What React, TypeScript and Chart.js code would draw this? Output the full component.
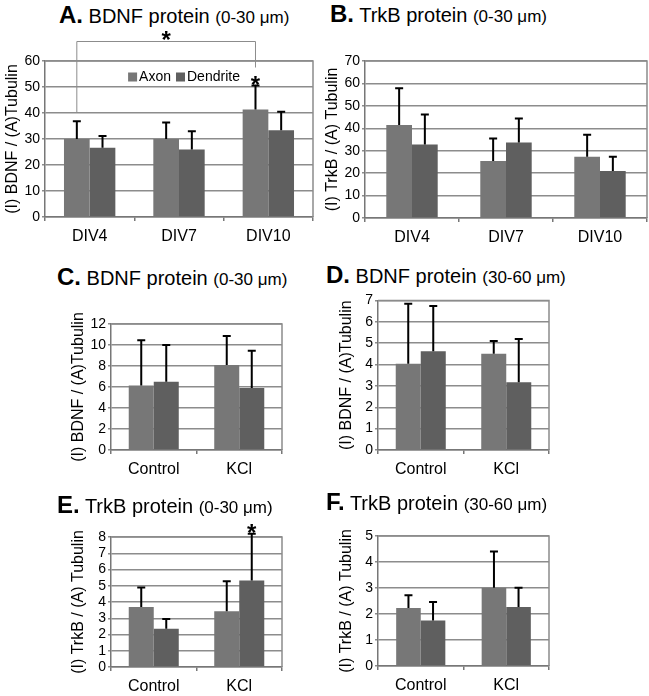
import React, { useEffect, useRef } from "react";
import { Chart, registerables } from "chart.js";

Chart.register(...registerables);

const FONT = "'Liberation Sans', Arial, Helvetica, sans-serif";
const SERIES = ["Axon", "Dendrite"];
const AXON_COLOR = "#777777";
const DENDRITE_COLOR = "#5f5f5f";

// categories
const catsDIV = ["DIV4", "DIV7", "DIV10"];
const catsTreat = ["Control", "KCl"];

// A. BDNF protein (0-30 µm)
const aAxon = [30.0, 30.0, 41.3];
const aAxonErr = [6.8, 6.3, 9.3];
const aDend = [26.6, 26.0, 33.4];
const aDendErr = [4.6, 7.0, 7.1];

// B. TrkB protein (0-30 µm)
const bAxon = [41.5, 25.4, 27.3];
const bAxonErr = [16.4, 10.1, 9.8];
const bDend = [32.8, 33.7, 21.0];
const bDendErr = [13.4, 10.7, 6.3];

// C. BDNF protein (0-30 µm)
const cAxon = [6.15, 8.1];
const cAxonErr = [4.3, 2.75];
const cDend = [6.5, 5.9];
const cDendErr = [3.5, 3.55];

// D. BDNF protein (30-60 µm)
const dAxon = [4.04, 4.5];
const dAxonErr = [2.8, 0.6];
const dDend = [4.62, 3.17];
const dDendErr = [2.12, 2.02];

// E. TrkB protein (0-30 µm)
const eAxon = [3.69, 3.43];
const eAxonErr = [1.2, 1.85];
const eDend = [2.35, 5.33];
const eDendErr = [0.6, 2.87];

// F. TrkB protein (30-60 µm)
const fAxon = [2.23, 3.01];
const fAxonErr = [0.49, 1.39];
const fDend = [1.75, 2.27];
const fDendErr = [0.71, 0.74];

// y axis ranges
const yMaxes = [60, 70, 12, 7, 8, 5];
const ySteps = [10, 10, 2, 1, 1, 1];

// significance marks (dataset index, category index)
const aStars = [{ ds: 0, idx: 2 }];
const eStars = [{ ds: 1, idx: 1 }];
// bracket in A: from DIV4 axon to DIV10 axon, values of top level and ends
const aBracket = { ds: 0, from: 0, to: 2, level: 67.5, fromEnd: 40.2, toEnd: 57.5 };

type Box = { x: number; y: number; w: number; h: number };
type Area = { l: number; t: number; r: number; b: number };

interface PanelSpec {
  letter: string;
  title: string;
  sub: string;
  yTitle: string;
  cats: string[];
  axon: number[];
  axonErr: number[];
  dend: number[];
  dendErr: number[];
  yMax: number;
  yStep: number;
  canvas: Box;
  area: Area;
  yTitleX: number;
  titleX: number;
  titleBase: number;
  catPct: number;
  legend: boolean;
  stars: { ds: number; idx: number }[];
  bracket?: typeof aBracket;
}

const panels: PanelSpec[] = [
  {
    letter: "A.", title: "BDNF protein", sub: "(0-30 μm)", yTitle: "(I) BDNF / (A)Tubulin",
    cats: catsDIV, axon: aAxon, axonErr: aAxonErr, dend: aDend, dendErr: aDendErr,
    yMax: yMaxes[0], yStep: ySteps[0],
    canvas: { x: 0, y: 28, w: 322, h: 222 }, area: { l: 45, t: 61, r: 313, b: 217 },
    yTitleX: 13, titleX: 59, titleBase: 23, catPct: 0.575, legend: true, stars: aStars, bracket: aBracket,
  },
  {
    letter: "B.", title: "TrkB protein", sub: "(0-30 μm)", yTitle: "(I) TrkB / (A) Tubulin",
    cats: catsDIV, axon: bAxon, axonErr: bAxonErr, dend: bDend, dendErr: bDendErr,
    yMax: yMaxes[1], yStep: ySteps[1],
    canvas: { x: 322, y: 28, w: 327, h: 222 }, area: { l: 365, t: 61, r: 647, b: 218 },
    yTitleX: 333, titleX: 330, titleBase: 22, catPct: 0.547, legend: false, stars: [],
  },
  {
    letter: "C.", title: "BDNF protein", sub: "(0-30 μm)", yTitle: "(I) BDNF / (A)Tubulin",
    cats: catsTreat, axon: cAxon, axonErr: cAxonErr, dend: cDend, dendErr: cDendErr,
    yMax: yMaxes[2], yStep: ySteps[2],
    canvas: { x: 0, y: 290, w: 322, h: 190 }, area: { l: 111, t: 324, r: 282, b: 450 },
    yTitleX: 79, titleX: 57, titleBase: 285, catPct: 0.585, legend: false, stars: [],
  },
  {
    letter: "D.", title: "BDNF protein", sub: "(30-60 μm)", yTitle: "(I) BDNF / (A)Tubulin",
    cats: catsTreat, axon: dAxon, axonErr: dAxonErr, dend: dDend, dendErr: dDendErr,
    yMax: yMaxes[3], yStep: ySteps[3],
    canvas: { x: 322, y: 290, w: 327, h: 190 }, area: { l: 378, t: 298, r: 549, b: 450 },
    yTitleX: 347, titleX: 326, titleBase: 283, catPct: 0.585, legend: false, stars: [],
  },
  {
    letter: "E.", title: "TrkB protein", sub: "(0-30 μm)", yTitle: "(I) TrkB / (A) Tubulin",
    cats: catsTreat, axon: eAxon, axonErr: eAxonErr, dend: eDend, dendErr: eDendErr,
    yMax: yMaxes[4], yStep: ySteps[4],
    canvas: { x: 0, y: 515, w: 322, h: 181 }, area: { l: 111, t: 537, r: 282, b: 667 },
    yTitleX: 79, titleX: 57, titleBase: 513, catPct: 0.585, legend: false, stars: eStars,
  },
  {
    letter: "F.", title: "TrkB protein", sub: "(30-60 μm)", yTitle: "(I) TrkB / (A) Tubulin",
    cats: catsTreat, axon: fAxon, axonErr: fAxonErr, dend: fDend, dendErr: fDendErr,
    yMax: yMaxes[5], yStep: ySteps[5],
    canvas: { x: 322, y: 515, w: 327, h: 181 }, area: { l: 378, t: 536, r: 549, b: 666 },
    yTitleX: 347, titleX: 326, titleBase: 510, catPct: 0.575, legend: false, stars: [],
  },
];

const Y_TITLE_SIZE = 16;

function drawStar(ctx: CanvasRenderingContext2D, x: number, cy: number) {
  ctx.save();
  ctx.fillStyle = "#000";
  ctx.font = `bold 24px ${FONT}`;
  ctx.textAlign = "center";
  ctx.textBaseline = "alphabetic";
  ctx.fillText("*", x, cy + 13.5);
  ctx.restore();
}

function drawLegend(chart: any) {
  const { ctx, chartArea } = chart;
  ctx.save();
  ctx.font = `14px ${FONT}`;
  ctx.textBaseline = "middle";
  ctx.textAlign = "left";
  const box = 9;
  const gapBoxText = 2;
  const gapItems = 5;
  const items = chart.data.datasets.map((ds: any) => ({
    label: ds.label as string,
    color: ds.backgroundColor as string,
    w: ctx.measureText(ds.label).width,
  }));
  const total =
    items.reduce((s: number, it: any) => s + box + gapBoxText + it.w, 0) + gapItems * (items.length - 1);
  let x = (chartArea.left + chartArea.right) / 2 + 5 - total / 2;
  const cy = chartArea.top + 16;
  items.forEach((it: any) => {
    ctx.fillStyle = it.color;
    ctx.fillRect(x, cy - box / 2, box, box);
    x += box + gapBoxText;
    ctx.fillStyle = "#000";
    ctx.fillText(it.label, x, cy + 0.5);
    x += it.w + gapItems;
  });
  ctx.restore();
}

function makePlugin(spec: PanelSpec) {
  return {
    id: "annot",
    afterDatasetsDraw(chart: any) {
      const { ctx, chartArea } = chart;
      const ys = chart.scales.y;
      ctx.save();
      // plot frame (top/right)
      ctx.strokeStyle = "#8c8c8c";
      ctx.lineWidth = 1.5;
      ctx.beginPath();
      ctx.moveTo(chartArea.left, chartArea.top);
      ctx.lineTo(chartArea.right, chartArea.top);
      ctx.lineTo(chartArea.right, chartArea.bottom);
      ctx.stroke();
      // error bars (upper only)
      chart.data.datasets.forEach((ds: any, di: number) => {
        const meta = chart.getDatasetMeta(di);
        meta.data.forEach((bar: any, i: number) => {
          const v = ds.data[i];
          const e = ds.errors[i];
          const x = bar.x;
          const y0 = ys.getPixelForValue(v);
          const y1 = ys.getPixelForValue(v + e);
          ctx.strokeStyle = "#000";
          ctx.lineWidth = 2;
          ctx.beginPath();
          ctx.moveTo(x, y0);
          ctx.lineTo(x, y1);
          ctx.moveTo(x - 4, y1);
          ctx.lineTo(x + 4, y1);
          ctx.stroke();
        });
      });
      // stars above error bars
      spec.stars.forEach((s) => {
        const ds = chart.data.datasets[s.ds];
        const bar = chart.getDatasetMeta(s.ds).data[s.idx];
        const capY = ys.getPixelForValue(ds.data[s.idx] + ds.errors[s.idx]);
        drawStar(ctx, bar.x, capY - 6);
      });
      // bracket
      if (spec.bracket) {
        const br = spec.bracket;
        const meta = chart.getDatasetMeta(br.ds);
        const x1 = meta.data[br.from].x;
        const x2 = meta.data[br.to].x;
        const yl = ys.getPixelForValue(br.level);
        ctx.strokeStyle = "#8c8c8c";
        ctx.lineWidth = 1;
        ctx.beginPath();
        ctx.moveTo(x1, ys.getPixelForValue(br.fromEnd));
        ctx.lineTo(x1, yl);
        ctx.lineTo(x2, yl);
        ctx.lineTo(x2, ys.getPixelForValue(br.toEnd));
        ctx.stroke();
        drawStar(ctx, (x1 + x2) / 2, yl - 7);
      }
      if (spec.legend) drawLegend(chart);
      ctx.restore();
    },
  };
}

function Panel({ spec }: { spec: PanelSpec }) {
  const ref = useRef<HTMLCanvasElement | null>(null);
  useEffect(() => {
    if (!ref.current) return;
    const { canvas: cv, area } = spec;
    const lineH = Y_TITLE_SIZE * 1.2;
    const padLeft = Math.max(0, spec.yTitleX - cv.x - lineH / 2);
    const yWidth = area.l - cv.x - padLeft;
    const xHeight = cv.y + cv.h - area.b;
    const chart = new Chart(ref.current, {
      type: "bar",
      data: {
        labels: spec.cats,
        datasets: [
          {
            label: SERIES[0], data: spec.axon, errors: spec.axonErr,
            backgroundColor: AXON_COLOR, borderWidth: 0,
            categoryPercentage: spec.catPct, barPercentage: 1.0,
          } as any,
          {
            label: SERIES[1], data: spec.dend, errors: spec.dendErr,
            backgroundColor: DENDRITE_COLOR, borderWidth: 0,
            categoryPercentage: spec.catPct, barPercentage: 1.0,
          } as any,
        ],
      },
      options: {
        responsive: false,
        maintainAspectRatio: false,
        animation: false,
        events: [],
        layout: {
          padding: {
            left: padLeft,
            top: area.t - cv.y,
            right: cv.x + cv.w - area.r,
            bottom: 0,
          },
        },
        plugins: {
          tooltip: { enabled: false },
          legend: { display: false },
        },
        scales: {
          x: {
            grid: {
              display: true,
              drawOnChartArea: false,
              drawTicks: true,
              tickLength: 4,
              color: "#777",
              lineWidth: 1.5,
            },
            border: { display: true, color: "#777", width: 1.5 },
            ticks: {
              color: "#000",
              padding: 6,
              font: { family: FONT, size: 16 },
              maxRotation: 0,
            },
            afterFit: (s: any) => {
              s.height = xHeight;
            },
          },
          y: {
            min: 0,
            max: spec.yMax,
            ticks: {
              stepSize: spec.yStep,
              autoSkip: false,
              color: "#000",
              padding: 2,
              font: { family: FONT, size: 14 },
            },
            grid: {
              color: "#8c8c8c",
              lineWidth: 1.5,
              tickLength: 3,
            },
            border: { display: true, color: "#777", width: 1.5 },
            title: {
              display: true,
              text: spec.yTitle,
              color: "#000",
              font: { family: FONT, size: Y_TITLE_SIZE },
              padding: { top: 0, bottom: 0 },
            },
            afterFit: (s: any) => {
              s.width = yWidth;
            },
          },
        },
      },
      plugins: [makePlugin(spec)],
    });
    return () => chart.destroy();
  }, [spec]);
  const { canvas: cv } = spec;
  return (
    <canvas
      ref={ref}
      width={cv.w}
      height={cv.h}
      style={{ position: "absolute", left: cv.x, top: cv.y, width: cv.w, height: cv.h }}
    />
  );
}

function PanelTitle({ spec }: { spec: PanelSpec }) {
  // div with 24px strut and line-height 1 -> baseline ~ top + 20.3
  const top = spec.titleBase - 20.3;
  return (
    <div
      style={{
        position: "absolute",
        left: spec.titleX,
        top,
        fontFamily: FONT,
        fontSize: 24,
        lineHeight: 1,
        whiteSpace: "nowrap",
        color: "#000",
      }}
    >
      <span style={{ fontWeight: "bold", fontSize: 24 }}>{spec.letter}</span>
      <span style={{ fontSize: 20 }}> {spec.title} </span>
      <span style={{ fontSize: 17 }}>{spec.sub}</span>
    </div>
  );
}

export default function App() {
  return (
    <div
      style={{
        position: "absolute",
        left: 0,
        top: 0,
        width: 649,
        height: 696,
        background: "#fff",
        overflow: "hidden",
      }}
    >
      {panels.map((p, i) => (
        <React.Fragment key={i}>
          <Panel spec={p} />
          <PanelTitle spec={p} />
        </React.Fragment>
      ))}
    </div>
  );
}
